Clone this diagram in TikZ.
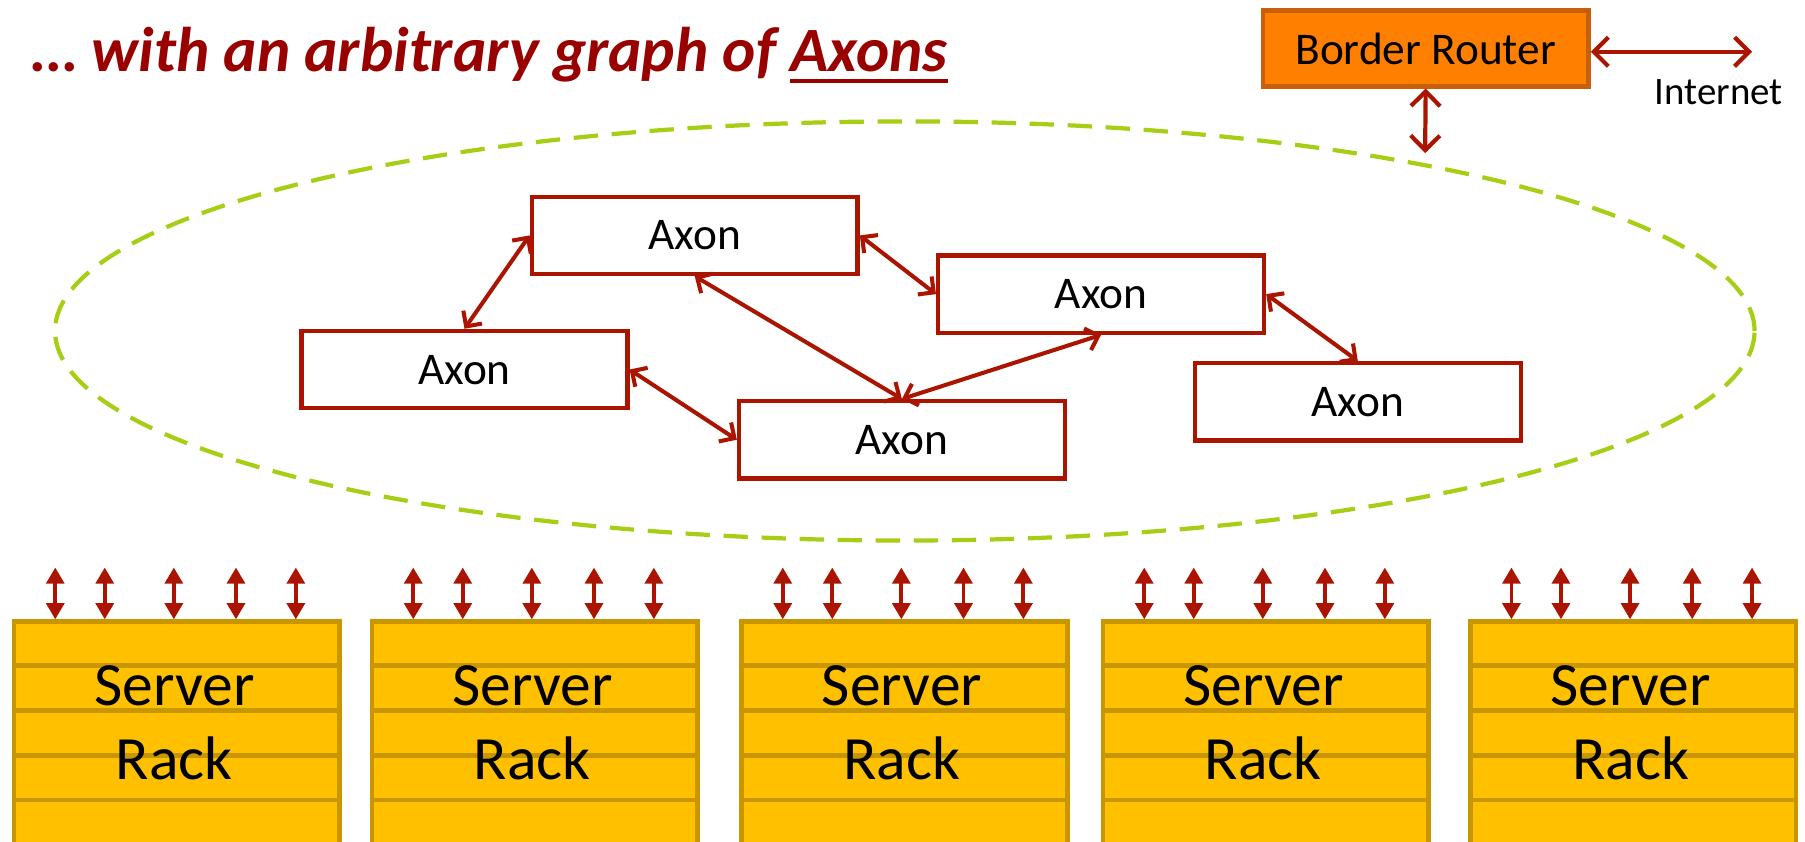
\documentclass[tikz,border=0pt]{standalone}
\usepackage{fontspec}
\setmainfont{Carlito}
\usepackage{tikz}
\usetikzlibrary{arrows.meta, positioning}
\definecolor{titlered}{RGB}{153,0,0}
\definecolor{linkred}{RGB}{170,20,0}
\definecolor{routerfill}{RGB}{255,128,0}
\definecolor{routerdraw}{RGB}{200,95,10}
\definecolor{rackfill}{RGB}{255,192,0}
\definecolor{rackdraw}{RGB}{200,150,0}
\definecolor{cloudgreen}{RGB}{166,206,20}
\newcommand\thickul[1]{\leavevmode\vtop{\hbox{#1}\kern4.3pt\hrule height 2.8pt}}

\begin{document}
\begin{tikzpicture}[x=0.025cm, y=-0.025cm,
    heading/.style={text=titlered, font=\fontsize{39}{46}\selectfont\bfseries\itshape, inner sep=0pt},
    axon/.style={draw=linkred, line width=2.7pt, fill=white, minimum width=7.075cm, minimum height=1.675cm, inner sep=0pt, text depth=-7pt, font=\fontsize{28}{34}\selectfont},
    router/.style={draw=routerdraw, line width=2.7pt, fill=routerfill, minimum width=7.075cm, minimum height=1.65cm, inner sep=0pt, text depth=-6pt, font=\fontsize{28}{34}\selectfont},
    rack/.style={draw=rackdraw, line width=3pt, fill=rackfill, minimum width=7.075cm, minimum height=5.175cm, inner sep=0pt, anchor=north west},
    racklabel/.style={align=center, font=\fontsize{38}{45.5}\selectfont, inner sep=0pt},
    link/.style={draw=linkred, line width=2.5pt, {Straight Barb[length=7pt,width=14pt]}-{Straight Barb[length=7pt,width=14pt]}},
    bigarrow/.style={draw=linkred, line width=2.6pt, {Straight Barb[length=9pt,width=18pt]}-{Straight Barb[length=9pt,width=18pt]}},
    rackarrow/.style={draw=linkred, line width=2.4pt, {Triangle[length=10pt,width=11pt]}-{Triangle[length=10pt,width=11pt]}},
    cloud/.style={draw=cloudgreen, line width=2.6pt, dash pattern=on 15pt off 8.5pt}]

    \clip (0,0) rectangle (1568,731);
    \fill[white] (0,0) rectangle (1568,731);

    \node[heading, anchor=base west] (title) at (28,62) {… with an arbitrary graph of \thickul{Axons}};

    % border router and uplink
    \node[router] (router) at (1238.5,42) {Border Router};
    \coordinate (inetend) at (1522,45);
    \draw[bigarrow] (router.east |- inetend) -- (inetend);
    \node[font=\fontsize{24}{29}\selectfont] (inet) at (1493,80) {Internet};
    \coordinate (cloudtop) at (1238,133);
    \draw[bigarrow] (router.south) -- (cloudtop);

    \draw[cloud] (786,287.5) ellipse [x radius=18.45cm, y radius=4.55cm];

    \node[axon] (a1) at (603.5,204.5) {Axon};
    \node[axon] (a2) at (956.5,255.5) {Axon};
    \node[axon] (a3) at (403.5,321) {Axon};
    \node[axon] (a4) at (783.5,382) {Axon};
    \node[axon] (a5) at (1179.5,349) {Axon};

    \draw[link] (a1.west) -- (a3.north);
    \draw[link] (a1.east) -- (a2.west);
    \draw[link] (a1.south) -- (a4.north);
    \draw[link] (a3.east) -- (a4.west);
    \draw[link] (a4.north) -- (a2.south);
    \draw[link] (a2.east) -- (a5.north);

    % server racks
    \foreach \x [count=\i] in {10,321,642,956,1275} {
        \node[rack] (r\i) at (\x,538) {};
        \foreach \y in {578,617,656,695}
            \draw[rackdraw, line width=3pt] (\x,\y) -- (\x+283,\y);
        \node[racklabel] (t\i) at (\x+141.5,628) {Server\\Rack};
        \foreach \d [count=\j] in {38,81,141,195,247} {
            \coordinate (p\i-\j) at (\x+\d,493);
            \draw[rackarrow] (p\i-\j) -- (p\i-\j |- r\i.north);
        }
    }
\end{tikzpicture}
\end{document}
